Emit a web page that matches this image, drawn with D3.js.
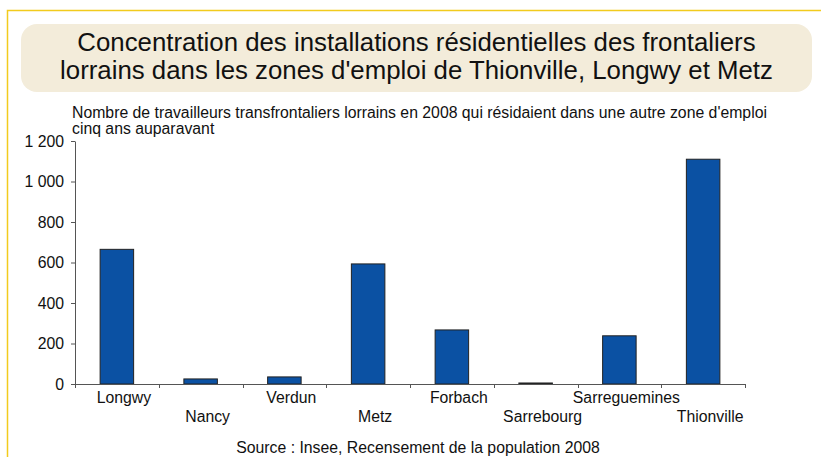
<!DOCTYPE html>
<html>
<head>
<meta charset="utf-8">
<script src="https://cdn.jsdelivr.net/npm/d3@7"></script>
<style>
  body { margin: 0; background: #fff; }
  svg { display: block; font-family: "Liberation Sans", Arial, sans-serif; }
</style>
</head>
<body>
<svg id="chart"></svg>
<script>
/* Data */
var zones = ["Longwy", "Nancy", "Verdun", "Metz", "Forbach", "Sarrebourg", "Sarreguemines", "Thionville"];
var workers = [665, 25, 35, 593, 267, 5, 238, 1110];
var yTicks = [0, 200, 400, 600, 800, 1000, 1200];
var titleLines = ["Concentration des installations résidentielles des frontaliers",
                  "lorrains dans les zones d'emploi de Thionville, Longwy et Metz"];
var subtitleLines = ["Nombre de travailleurs transfrontaliers lorrains en 2008 qui résidaient dans une autre zone d'emploi",
                     "cinq ans auparavant"];
var sourceText = "Source : Insee, Recensement de la population 2008";

/* Main svg */
var W = 821, H = 457;
var svg = d3.select('svg#chart')
    .attr('width', W)
    .attr('height', H);

/* Yellow frame (partly out of view) */
svg.append('path')
    .attr('d', 'M7.5,' + (H + 5) + ' V10.5 H' + (W + 5))
    .attr('fill', 'none')
    .attr('stroke', '#f2cb1d')
    .attr('stroke-width', 1.5);

/* Title box */
svg.append('rect')
    .attr('x', 21).attr('y', 24)
    .attr('width', 791).attr('height', 68)
    .attr('rx', 16).attr('ry', 16)
    .attr('fill', '#f3ecda');

svg.append('g').selectAll('text')
    .data(titleLines)
    .enter()
    .append('text')
    .attr('x', 416.5)
    .attr('y', (d, i) => 51 + i * 28)
    .attr('text-anchor', 'middle')
    .attr('font-size', '25.8px')
    .attr('fill', '#111')
    .text(d => d);

svg.append('g').selectAll('text')
    .data(subtitleLines)
    .enter()
    .append('text')
    .attr('x', 72)
    .attr('y', (d, i) => 118 + i * 16)
    .attr('font-size', '15.8px')
    .attr('fill', '#111')
    .text(d => d);

/* Scales */
var plot = { left: 75, right: 745, top: 141, bottom: 384 };

var x = d3.scaleBand()
    .domain(zones)
    .range([plot.left, plot.right])
    .paddingInner(0.6)
    .paddingOuter(0.3);

var y = d3.scaleLinear()
    .domain([0, 1200])
    .range([plot.bottom, plot.top]);

var fr = d3.formatLocale({ decimal: ",", thousands: " ", grouping: [3], currency: ["", " €"] });

/* Y axis */
var yAxis = svg.append('g')
    .attr('transform', `translate(${plot.left},0)`)
    .call(d3.axisLeft(y).tickValues(yTicks).tickSize(4).tickSizeOuter(0).tickFormat(fr.format(",")));
yAxis.selectAll('path, line').attr('stroke', '#555');
yAxis.selectAll('text')
    .attr('font-size', '15.8px')
    .attr('font-family', '"Liberation Sans", Arial, sans-serif')
    .attr('fill', '#111')
    .attr('x', -11);

/* Bars */
svg.append('g')
    .selectAll('rect.bar')
    .data(zones)
    .enter()
    .append('rect')
    .attr('class', 'bar')
    .attr('x', d => x(d))
    .attr('y', (d, i) => y(workers[i]))
    .attr('width', x.bandwidth())
    .attr('height', (d, i) => y(0) - y(workers[i]))
    .style('fill', '#0b51a3')
    .style('stroke', '#222')
    .style('stroke-width', 1);

/* X axis: line, boundary ticks, staggered labels */
var step = x.step();
var bounds = d3.range(zones.length + 1).map(i => plot.left + i * step);
var xAxis = svg.append('g');
xAxis.append('line')
    .attr('x1', plot.left).attr('x2', plot.right)
    .attr('y1', plot.bottom + 0.5).attr('y2', plot.bottom + 0.5)
    .attr('stroke', '#555');
xAxis.selectAll('line.tick')
    .data(bounds)
    .enter()
    .append('line')
    .attr('class', 'tick')
    .attr('x1', d => Math.round(d) + 0.5).attr('x2', d => Math.round(d) + 0.5)
    .attr('y1', plot.bottom).attr('y2', plot.bottom + 4)
    .attr('stroke', '#555');
xAxis.selectAll('text')
    .data(zones)
    .enter()
    .append('text')
    .attr('x', d => x(d) + x.bandwidth() / 2 + 7)
    .attr('y', (d, i) => i % 2 === 0 ? 403 : 422)
    .attr('text-anchor', 'middle')
    .attr('font-size', '15.8px')
    .attr('fill', '#111')
    .text(d => d);

/* Source */
svg.append('text')
    .attr('x', 418)
    .attr('y', 453)
    .attr('text-anchor', 'middle')
    .attr('font-size', '15.8px')
    .attr('fill', '#111')
    .text(sourceText);
</script>
</body>
</html>
